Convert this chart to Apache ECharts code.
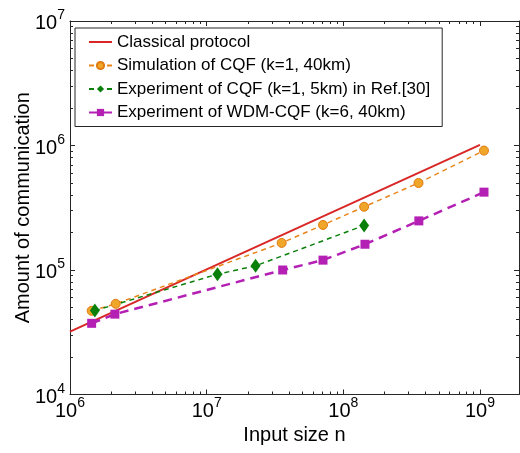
<!DOCTYPE html>
<html>
<head>
<meta charset="utf-8">
<script src="https://cdn.jsdelivr.net/npm/echarts@6/dist/echarts.min.js"></script>
<style>
  html, body { margin: 0; padding: 0; background: #fff; }
  #chart { width: 520px; height: 453px; }
</style>
</head>
<body>
<div id="chart"></div>
<script>
  // data
  const classicalN = [1e6, 1e9];
  const classicalVal = [3.2e4, 1.01e6];

  const simN = [1.44e6, 2.16e6, 3.54e7, 7.1e7, 1.42e8, 3.55e8, 1.07e9];
  const simVal = [4.7e4, 5.35e4, 1.65e5, 2.3e5, 3.22e5, 5.0e5, 9.1e5];

  const expN = [1.52e6, 1.2e7, 2.28e7, 1.42e8];
  const expVal = [4.72e4, 9.25e4, 1.08e5, 2.28e5];

  const wdmN = [1.44e6, 2.13e6, 3.6e7, 7.1e7, 1.44e8, 3.57e8, 1.07e9];
  const wdmVal = [3.73e4, 4.42e4, 1.0e5, 1.2e5, 1.61e5, 2.48e5, 4.22e5];

  const seriesNames = [
    "Classical protocol",
    "Simulation of CQF (k=1, 40km)",
    "Experiment of CQF (k=1, 5km) in Ref.[30]",
    "Experiment of WDM-CQF (k=6, 40km)",
  ];

  // axis ranges and minor tick values
  const xMin = 1e6, xMax = 1.93e9;
  const yMin = 1e4, yMax = 1e7;
  const xMinor = [
    2e6, 3e6, 4e6, 5e6, 6e6, 7e6, 8e6, 9e6,
    2e7, 3e7, 4e7, 5e7, 6e7, 7e7, 8e7, 9e7,
    2e8, 3e8, 4e8, 5e8, 6e8, 7e8, 8e8, 9e8,
  ];
  const yMinor = [
    2e4, 3e4, 4e4, 5e4, 6e4, 7e4, 8e4, 9e4,
    2e5, 3e5, 4e5, 5e5, 6e5, 7e5, 8e5, 9e5,
    2e6, 3e6, 4e6, 5e6, 6e6, 7e6, 8e6, 9e6,
  ];

  const FONT = "Liberation Sans, Arial, Helvetica, sans-serif";
  const AXIS_COLOR = "#262626";

  function pow10Label(v) {
    const e = Math.log10(v);
    if (Math.abs(e - Math.round(e)) > 1e-6) return "";
    return "{b|10}{s|" + Math.round(e) + "}";
  }

  const labelRich = {
    b: { fontFamily: FONT, fontSize: 20, color: "#000", padding: [5, 0, 0, 0], verticalAlign: "bottom" },
    s: { fontFamily: FONT, fontSize: 14, color: "#000", verticalAlign: "top" },
  };

  function axisBase(extra) {
    return Object.assign({
      type: "log",
      logBase: 10,
      splitLine: { show: false },
      axisLine: { show: false, onZero: false },
      axisLabel: { show: false },
      axisTick: { show: false },
    }, extra);
  }

  function majorTick() {
    return { show: true, inside: true, length: 5, lineStyle: { color: AXIS_COLOR, width: 1 } };
  }
  function minorTick(values) {
    return { show: true, inside: true, length: 3, customValues: values, lineStyle: { color: AXIS_COLOR, width: 1 } };
  }

  const option = {
    animation: false,
    backgroundColor: "#fff",
    grid: { left: 70, right: 1, top: 21, bottom: 58.5 },
    legend: {
      orient: "vertical",
      left: 75,
      top: 28,
      padding: [5, 12, 5, 13],
      itemGap: 5.5,
      itemWidth: 23,
      itemHeight: 9,
      backgroundColor: "#fff",
      borderColor: AXIS_COLOR,
      borderWidth: 1,
      textStyle: { fontFamily: FONT, fontSize: 17, color: "#000", lineHeight: 18 },
      data: [
        { name: seriesNames[0], icon: "path://M0,0L23,0L23,2L0,2Z" },
        seriesNames[1],
        seriesNames[2],
        seriesNames[3],
      ],
    },
    xAxis: [
      axisBase({
        min: xMin, max: xMax, position: "bottom",
        axisLine: { show: true, onZero: false, lineStyle: { color: AXIS_COLOR, width: 1 } },
        axisTick: majorTick(),
        axisLabel: { show: true, margin: 2, formatter: pow10Label, rich: labelRich, showMaxLabel: false },
        name: "Input size n",
        nameLocation: "middle",
        nameGap: 31,
        nameMoveOverlap: false,
        nameTextStyle: { fontFamily: FONT, fontSize: 20, color: "#000" },
      }),
      axisBase({ min: xMin, max: xMax, position: "bottom", axisTick: minorTick(xMinor) }),
      axisBase({
        min: xMin, max: xMax, position: "top",
        axisLine: { show: true, onZero: false, lineStyle: { color: AXIS_COLOR, width: 1 } },
        axisTick: majorTick(),
      }),
      axisBase({ min: xMin, max: xMax, position: "top", axisTick: minorTick(xMinor) }),
    ],
    yAxis: [
      axisBase({
        min: yMin, max: yMax, position: "left",
        axisLine: { show: true, onZero: false, lineStyle: { color: AXIS_COLOR, width: 1 } },
        axisTick: majorTick(),
        axisLabel: { show: true, margin: 5, formatter: pow10Label, rich: labelRich },
        name: "Amount of communication",
        nameLocation: "middle",
        nameGap: 37,
        nameMoveOverlap: false,
        nameTextStyle: { fontFamily: FONT, fontSize: 20, color: "#000" },
      }),
      axisBase({ min: yMin, max: yMax, position: "left", axisTick: minorTick(yMinor) }),
      axisBase({
        min: yMin, max: yMax, position: "right",
        axisLine: { show: true, onZero: false, lineStyle: { color: AXIS_COLOR, width: 1 } },
        axisTick: majorTick(),
      }),
      axisBase({ min: yMin, max: yMax, position: "right", axisTick: minorTick(yMinor) }),
    ],
    series: [
      {
        name: seriesNames[0],
        type: "line",
        xAxisIndex: 0,
        yAxisIndex: 0,
        symbol: "none",
        color: "#D92727",
        lineStyle: { width: 2, color: "#D92727" },
        data: classicalN.map((n, i) => [n, classicalVal[i]]),
      },
      {
        name: seriesNames[1],
        type: "line",
        xAxisIndex: 0,
        yAxisIndex: 0,
        symbol: "circle",
        symbolSize: 9,
        color: "#E8861C",
        itemStyle: { color: "#F0A628", borderColor: "#E07A10", borderWidth: 1 },
        lineStyle: { width: 1.5, type: [5, 4], color: "#E8861C" },
        data: simN.map((n, i) => [n, simVal[i]]),
      },
      {
        name: seriesNames[2],
        type: "line",
        xAxisIndex: 0,
        yAxisIndex: 0,
        symbol: "diamond",
        symbolSize: [10, 14],
        color: "#0A800A",
        itemStyle: { color: "#0A800A" },
        lineStyle: { width: 1.5, type: [5, 4], color: "#0A800A" },
        data: expN.map((n, i) => [n, expVal[i]]),
      },
      {
        name: seriesNames[3],
        type: "line",
        xAxisIndex: 0,
        yAxisIndex: 0,
        symbol: "rect",
        symbolSize: 9,
        color: "#B420B4",
        itemStyle: { color: "#B420B4" },
        lineStyle: { width: 2.5, type: [9, 6], color: "#B420B4" },
        data: wdmN.map((n, i) => [n, wdmVal[i]]),
      },
    ],
  };

  const chart = echarts.init(document.getElementById("chart"));
  chart.setOption(option);
</script>
</body>
</html>
